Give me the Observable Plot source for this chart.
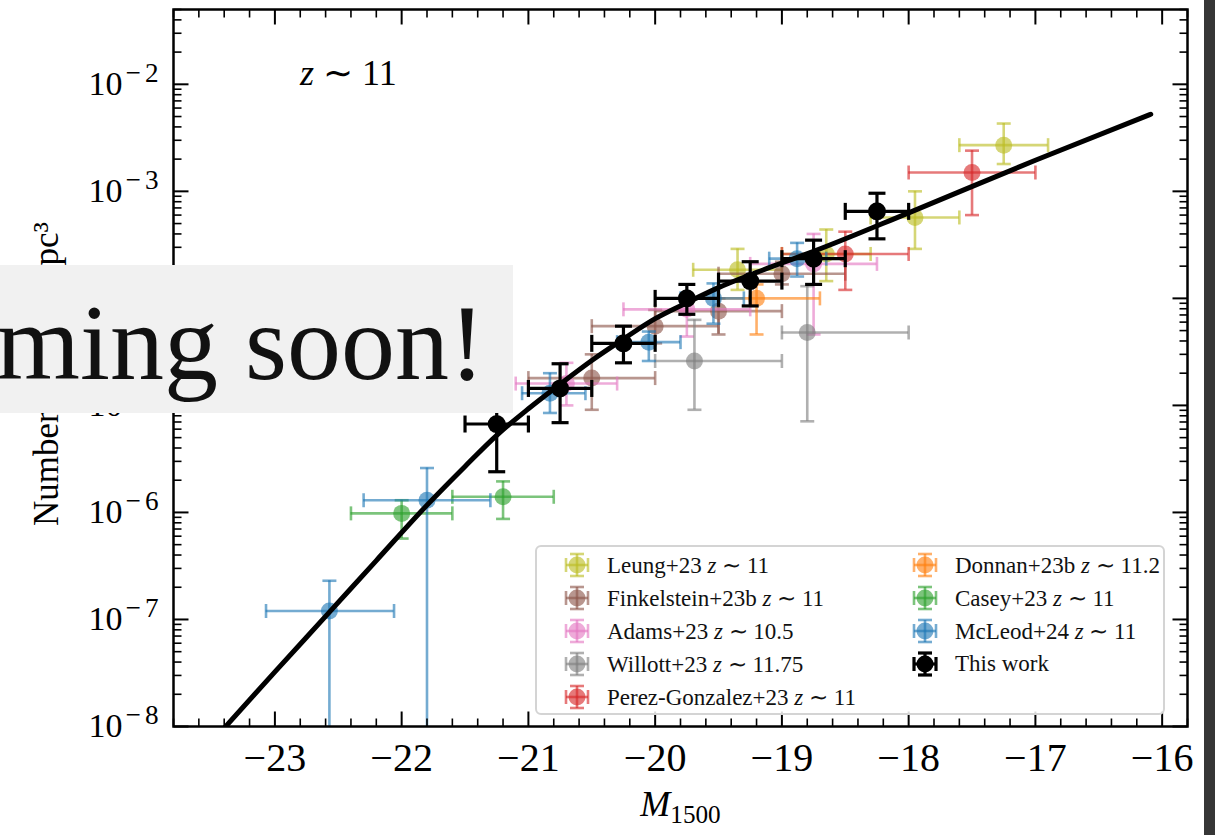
<!DOCTYPE html>
<html><head><meta charset="utf-8">
<script src="https://cdn.jsdelivr.net/npm/d3@7"></script>
<script src="https://cdn.jsdelivr.net/npm/@observablehq/plot@0.6"></script>
<style>
body{margin:0;background:#fff;}
#wrap{position:relative;width:1215px;height:835px;overflow:hidden;font-family:"Liberation Serif","Times New Roman",serif;background:#fff;}
#wrap > svg{position:absolute;left:0;top:0;}
#legend{position:absolute;left:535px;top:545px;width:630px;height:170px;border:2px solid #d4d4d4;border-radius:6px;background:rgba(255,255,255,0.85);box-sizing:border-box;}
.entry{position:absolute;display:flex;align-items:center;height:30px;font-size:23px;color:#111;white-space:nowrap;}
.entry svg{display:block;margin-right:16px;flex:none;}
#banner{position:absolute;left:0;top:265px;width:513px;height:148px;background:#f1f1f1;overflow:hidden;}
#banner span{position:absolute;right:28px;top:24px;font-size:108px;line-height:1;color:#111;white-space:nowrap;font-family:"Liberation Serif",serif;}
#strip{position:absolute;left:1204px;top:0;width:11px;height:835px;background:#363636;}
</style>
</head><body>
<div id="wrap"></div>
<script>
// ---- data: rows are [M, M_lo, M_hi, phi, phi_lo, phi_hi] ----
const leung = [
  [-19.35, -19.70, -19.00, 1.85e-4, 1.2e-4, 2.9e-4],
  [-18.65, -19.00, -18.30, 2.6e-4, 1.45e-4, 4.4e-4],
  [-17.95, -18.30, -17.60, 5.7e-4, 2.9e-4, 1.0e-3],
  [-17.25, -17.60, -16.90, 2.7e-3, 1.8e-3, 4.3e-3]
];
const finkelstein = [
  [-20.50, -21.00, -20.00, 1.8e-5, 9.1e-6, 3.0e-5],
  [-20.00, -20.50, -19.50, 5.5e-5, 3.8e-5, 7.8e-5],
  [-19.50, -20.00, -19.00, 7.6e-5, 4.6e-5, 1.0e-4],
  [-19.00, -19.50, -18.50, 1.7e-4, 1.35e-4, 2.2e-4]
];
const adams = [
  [-20.70, -21.10, -20.30, 1.6e-5, 1.0e-5, 2.5e-5],
  [-19.75, -20.25, -19.25, 7.9e-5, 4.4e-5, 1.0e-4],
  [-18.75, -19.25, -18.25, 2.1e-4, 4.6e-5, 4.0e-4]
];
const willott = [
  [-19.69, -20.00, -19.00, 2.6e-5, 9.1e-6, 6.3e-5],
  [-18.80, -19.00, -18.00, 4.8e-5, 7.1e-6, 1.3e-4]
];
const perezGonzalez = [
  [-18.50, -19.00, -18.00, 2.6e-4, 1.2e-4, 4.2e-4],
  [-17.50, -18.00, -17.00, 1.5e-3, 6.0e-4, 2.4e-3]
];
const donnan = [
  [-19.20, -19.50, -18.70, 1.0e-4, 4.6e-5, 1.35e-4]
];
const casey = [
  [-22.00, -22.40, -21.60, 9.8e-7, 5.7e-7, 1.3e-6],
  [-21.20, -21.60, -20.80, 1.4e-6, 8.7e-7, 1.95e-6]
];
const mcleod = [
  [-22.57, -23.07, -22.06, 1.2e-7, 1e-9, 2.3e-7],
  [-21.80, -22.30, -21.30, 1.3e-6, 1e-9, 2.6e-6],
  [-20.83, -21.05, -20.55, 1.3e-5, 8.5e-6, 2.0e-5],
  [-20.05, -20.30, -19.80, 3.9e-5, 2.6e-5, 4.9e-5],
  [-19.54, -19.80, -19.30, 1.0e-4, 5.8e-5, 1.38e-4],
  [-18.88, -19.10, -18.65, 2.35e-4, 1.6e-4, 3.3e-4]
];
const thisWork = [
  [-21.25, -21.50, -21.00, 6.7e-6, 2.4e-6, 1.15e-5],
  [-20.75, -21.00, -20.50, 1.44e-5, 6.9e-6, 2.45e-5],
  [-20.25, -20.50, -20.00, 3.8e-5, 2.5e-5, 5.5e-5],
  [-19.75, -20.00, -19.50, 1.0e-4, 7.1e-5, 1.35e-4],
  [-19.25, -19.50, -19.00, 1.45e-4, 8.5e-5, 2.2e-4],
  [-18.75, -19.00, -18.50, 2.35e-4, 1.35e-4, 3.5e-4],
  [-18.25, -18.50, -18.00, 6.5e-4, 3.6e-4, 9.6e-4]
];
// fitted luminosity function curve
const fitM   = [-23.45, -23.0, -22.57, -22.2, -21.8, -21.5, -21.25, -21.0, -20.75, -20.5, -20.25, -20.0, -19.75, -19.5, -19.25, -19.0, -18.75, -18.0, -17.0, -16.09];
const fitPhi = [8.3e-9, 3.24e-8, 1.17e-7, 3.55e-7, 1.17e-6, 2.69e-6, 5.25e-6, 9.3e-6, 1.58e-5, 2.63e-5, 4.17e-5, 6.46e-5, 9.1e-5, 1.26e-4, 1.66e-4, 2.14e-4, 2.75e-4, 6.3e-4, 1.95e-3, 5.25e-3];

const seriesNames  = ["Leung+23", "Finkelstein+23b", "Adams+23", "Willott+23", "Perez-Gonzalez+23", "Donnan+23b", "Casey+23", "McLeod+24", "This work"];
const seriesZ      = ["11", "11", "10.5", "11.75", "11", "11.2", "11", "11", null];
const seriesColors = ["#bcbd22", "#8c564b", "#e377c2", "#7f7f7f", "#d62728", "#ff7f0e", "#2ca02c", "#1f77b4", "#000000"];
const seriesRows   = [leung, finkelstein, adams, willott, perezGonzalez, donnan, casey, mcleod, thisWork];

const xTicks = [-23, -22, -21, -20, -19, -18, -17, -16];
const yTicks = [1e-8, 1e-7, 1e-6, 1e-5, 1e-4, 1e-3, 1e-2];
const xLabel = "M1500";
const yLabel = "Number / mag / Mpc³";
const zText = "z ∼ 11";

// ---- helpers ----
const seg = (ax, ay, bx, by) => ({draw(ctx, size) { const r = Math.sqrt(size / Math.PI); ctx.moveTo(ax * r, ay * r); ctx.lineTo(bx * r, by * r); }});
const capH = seg(-1, 0, 1, 0), capV = seg(0, -1, 0, 1);
const tUp = seg(0, 0, 0, -1), tDown = seg(0, 0, 0, 1), tRight = seg(0, 0, 1, 0), tLeft = seg(0, 0, -1, 0);

const xMinor = d3.range(-23.8, -15.79, 0.2).map(v => Math.round(v * 10) / 10).filter(v => Math.abs(v - Math.round(v)) > 1e-6);
const yMinor = [];
for (let k = -8; k <= -2; k++) for (let m = 2; m <= 9; m++) { const v = m * Math.pow(10, k); if (v <= 0.05) yMinor.push(v); }

const OP = 0.62;
function errMarks(rows, color, isMain) {
  const op = isMain ? 1 : OP;
  const sw = isMain ? 3.2 : 2.6;
  const cap = isMain ? 8.5 : 7;
  const base = {stroke: color, strokeOpacity: op, strokeWidth: sw, fill: "none", clip: true};
  return [
    Plot.ruleY(rows, {y: d => d[3], x1: d => d[1], x2: d => d[2], ...base}),
    Plot.ruleX(rows, {x: d => d[0], y1: d => d[4], y2: d => d[5], ...base}),
    Plot.dot(rows, {x: d => d[0], y: d => d[4], symbol: capH, r: cap, ...base}),
    Plot.dot(rows, {x: d => d[0], y: d => d[5], symbol: capH, r: cap, ...base}),
    Plot.dot(rows, {x: d => d[1], y: d => d[3], symbol: capV, r: cap, ...base}),
    Plot.dot(rows, {x: d => d[2], y: d => d[3], symbol: capV, r: cap, ...base}),
    Plot.dot(rows, {x: d => d[0], y: d => d[3], r: isMain ? 9 : 8.5, fill: color, fillOpacity: op, stroke: "none", clip: true})
  ];
}

const colourMarks = [];
for (let i = 0; i < seriesRows.length - 1; i++) colourMarks.push(...errMarks(seriesRows[i], seriesColors[i], false));

const tick = (o) => ({stroke: "black", fill: "none", ...o});

const svg = Plot.plot({
  width: 1215, height: 835,
  marginLeft: 173, marginRight: 28, marginTop: 9, marginBottom: 109,
  x: {domain: [-23.8, -15.8]},
  y: {type: "log", domain: [1e-8, 0.05]},
  style: {fontFamily: '"Liberation Serif","Times New Roman",serif', background: "white", color: "black"},
  marks: [
    ...colourMarks,
    Plot.line(fitM, {x: fitM, y: fitPhi, stroke: "black", strokeWidth: 5, curve: "monotone-x", clip: true}),
    ...errMarks(thisWork, "#000000", true),
    // ticks (inward, all four sides)
    Plot.dot(xTicks, tick({x: d => d, frameAnchor: "bottom", symbol: tUp, r: 15, strokeWidth: 2})),
    Plot.dot(xTicks, tick({x: d => d, frameAnchor: "top", symbol: tDown, r: 15, strokeWidth: 2})),
    Plot.dot(xMinor, tick({x: d => d, frameAnchor: "bottom", symbol: tUp, r: 8, strokeWidth: 1.6})),
    Plot.dot(xMinor, tick({x: d => d, frameAnchor: "top", symbol: tDown, r: 8, strokeWidth: 1.6})),
    Plot.dot(yTicks, tick({y: d => d, frameAnchor: "left", symbol: tRight, r: 15, strokeWidth: 2})),
    Plot.dot(yTicks, tick({y: d => d, frameAnchor: "right", symbol: tLeft, r: 15, strokeWidth: 2})),
    Plot.dot(yMinor, tick({y: d => d, frameAnchor: "left", symbol: tRight, r: 8, strokeWidth: 1.6})),
    Plot.dot(yMinor, tick({y: d => d, frameAnchor: "right", symbol: tLeft, r: 8, strokeWidth: 1.6})),
    Plot.axisX({ticks: xTicks, tickSize: 0, tickPadding: 16, fontSize: 40, label: null, tickFormat: d => "−" + Math.abs(d)}),
    Plot.axisY({ticks: yTicks, tickSize: 0, tickPadding: 11, fontSize: 34, label: null, tickFormat: d => "10^" + Math.round(Math.log10(d))}),
    Plot.frame({stroke: "black", strokeWidth: 2.5}),
    Plot.text([zText], {x: -22.42, y: 0.0127, text: d => d, fontSize: 36, fill: "black"}),
    Plot.text([xLabel], {frameAnchor: "bottom", textAnchor: "middle", lineAnchor: "middle", dy: 78, text: d => d, fontSize: 36, fill: "black"}),
    Plot.text([yLabel], {frameAnchor: "left", textAnchor: "middle", lineAnchor: "middle", dx: -127, dy: 6, rotate: -90, text: d => d, fontSize: 35, fill: "black"})
  ]
});

// rich text: superscripts, italics, subscripts
const S = d3.select(svg);
S.selectAll('g[aria-label="y-axis tick label"] text').each(function () {
  const m = this.textContent.match(/^10\^(-?\d+)$/);
  if (!m) return;
  const el = d3.select(this);
  el.text("");
  el.append("tspan").text("10");
  el.append("tspan").attr("dx", "3").attr("dy", "-0.5em").attr("font-size", "0.8em").attr("letter-spacing", "4").text(m[1].replace("-", "−"));
});
S.selectAll("text").each(function () {
  const t = this.textContent;
  const el = d3.select(this);
  if (t === xLabel) {
    el.text("");
    el.append("tspan").attr("font-style", "italic").text("M");
    el.append("tspan").attr("font-size", "0.7em").attr("dy", "0.28em").text("1500");
  } else if (t === zText) {
    el.text("");
    el.append("tspan").attr("font-style", "italic").text("z");
    el.append("tspan").text(" ∼ 11");
  }
});

const wrap = document.getElementById("wrap");
wrap.appendChild(svg);

// legend (inside the axes, lower right)
const legend = document.createElement("div");
legend.id = "legend";
const rowTop = [3, 36, 69, 102, 135];
seriesNames.forEach((name, i) => {
  const col = i < 5 ? 0 : 1, row = i < 5 ? i : i - 5;
  const e = document.createElement("div");
  e.className = "entry";
  e.style.left = (col === 0 ? 26 : 374) + "px";
  e.style.top = rowTop[row] + "px";
  const c = seriesColors[i], main = i === seriesNames.length - 1, op = main ? 1 : OP;
  const sw = main ? 3.2 : 2.6;
  e.innerHTML =
    `<svg width="28" height="28" viewBox="-14 -14 28 28">
      <g stroke="${c}" stroke-opacity="${op}" stroke-width="${sw}" fill="none">
        <line x1="-11" y1="0" x2="11" y2="0"/><line x1="0" y1="-11" x2="0" y2="11"/>
        <line x1="-11" y1="-7" x2="-11" y2="7"/><line x1="11" y1="-7" x2="11" y2="7"/>
        <line x1="-7" y1="-11" x2="7" y2="-11"/><line x1="-7" y1="11" x2="7" y2="11"/>
      </g>
      <circle r="8.5" fill="${c}" fill-opacity="${op}"/>
    </svg><span>${name}${seriesZ[i] ? ` <i>z</i> ∼ ${seriesZ[i]}` : ""}</span>`;
  legend.appendChild(e);
});
wrap.appendChild(legend);

const banner = document.createElement("div");
banner.id = "banner";
banner.innerHTML = "<span>Coming soon!</span>";
wrap.appendChild(banner);

const strip = document.createElement("div");
strip.id = "strip";
wrap.appendChild(strip);
</script>
</body></html>
